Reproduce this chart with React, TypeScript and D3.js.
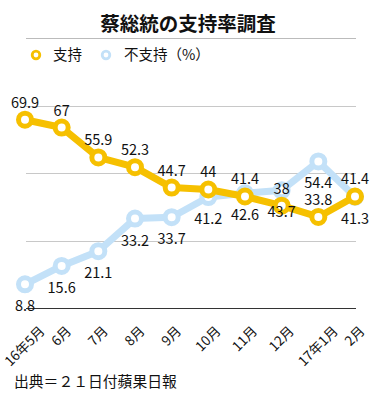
import React from 'react'
import * as d3 from 'd3'

const months = ['16年5月', '6月', '7月', '8月', '9月', '10月', '11月', '12月', '17年1月', '2月']
const support = [69.9, 67, 55.9, 52.3, 44.7, 44, 41.4, 38, 33.8, 41.4]
const oppose = [8.8, 15.6, 21.1, 33.2, 33.7, 41.2, 42.6, 43.7, 54.4, 41.3]
const gridTicks = [25, 50, 75]

const width = 374
const height = 398
const yellow = '#f6c000'
const blue = '#c3e1f8'
const font = '"Noto Sans CJK JP", "Noto Sans", sans-serif'
const tickSize = 13.5

const x = d3.scalePoint<string>().domain(months).range([25, 355])
const y = d3.scaleLinear().domain([0, 75]).range([308, 106])

// rough text width, so that the rotated labels sit centred on their tick
const textLen = (s: string) =>
  s.split('').reduce((w, c) => w + (/[0-9]/.test(c) ? 0.56 : 1) * tickSize, 0)

const Series = ({ values, color }: { values: number[]; color: string }) => {
  const line = d3
    .line<number>()
    .x((d, i) => x(months[i]) as number)
    .y(d => y(d))
  return (
    <g>
      <path d={line(values) || ''} fill="none" stroke={color} strokeWidth={7} strokeLinejoin="round" />
      {values.map((v, i) => (
        <circle key={i} cx={x(months[i])} cy={y(v)} r={6.5} fill="white" stroke={color} strokeWidth={5} />
      ))}
    </g>
  )
}

const Labels = ({ values, above }: { values: number[]; above: boolean }) => (
  <g fontFamily={font} fontSize={14.5} fill="#111" textAnchor="middle">
    {values.map((v, i) => (
      <text key={i} x={x(months[i])} y={y(v) + (above ? -12 : 27)}>
        {v}
      </text>
    ))}
  </g>
)

const App = () => {
  return (
    <svg
      width={width}
      height={height}
      style={{ position: 'absolute', left: 0, top: 0, background: 'white' }}
    >
      <text x={188} y={31} textAnchor="middle" fontFamily={font} fontSize={19.5} fontWeight="bold" fill="#111">
        蔡総統の支持率調査
      </text>
      <line x1={26} x2={356} y1={38.5} y2={38.5} stroke="#bbb" strokeWidth={1} />

      <g fontFamily={font} fontSize={14.5} fill="#111">
        <circle cx={36} cy={55} r={3.8} fill="white" stroke={yellow} strokeWidth={2.8} />
        <text x={53} y={60}>支持</text>
        <circle cx={106} cy={55} r={3.8} fill="white" stroke={blue} strokeWidth={2.8} />
        <text x={124} y={60}>不支持（%）</text>
      </g>

      {gridTicks.map(t => (
        <line key={t} x1={26} x2={356} y1={Math.round(y(t)) + 0.5} y2={Math.round(y(t)) + 0.5} stroke="#c8c8c8" strokeWidth={1} />
      ))}
      <line x1={26} x2={356} y1={y(0) + 0.5} y2={y(0) + 0.5} stroke="#333" strokeWidth={1} />

      <Series values={oppose} color={blue} />
      <Series values={support} color={yellow} />
      <Labels values={support} above={true} />
      <Labels values={oppose} above={false} />

      <g fontFamily={font} fontSize={tickSize} fill="#111" textAnchor="end">
        {months.map(m => {
          const px = (x(m) as number) + (textLen(m) * 0.707) / 2 + 3
          const py = 332
          return (
            <text key={m} x={px} y={py} transform={`rotate(-45 ${px} ${py})`}>
              {m}
            </text>
          )
        })}
      </g>

      <text x={14} y={387} fontFamily={font} fontSize={14.8} fill="#111">
        出典＝２１日付蘋果日報
      </text>
    </svg>
  )
}

export default App
